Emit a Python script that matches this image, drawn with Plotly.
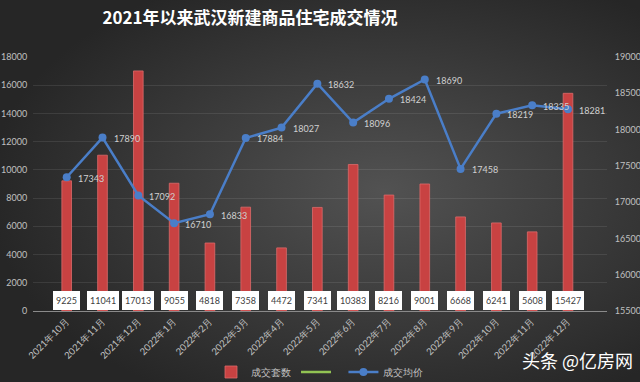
import base64
import plotly.graph_objects as go

months = ["2021年10月", "2021年11月", "2021年12月", "2022年1月", "2022年2月", "2022年3月",
          "2022年4月", "2022年5月", "2022年6月", "2022年7月", "2022年8月", "2022年9月",
          "2022年10月", "2022年11月", "2022年12月"]
volume = [9225, 11041, 17013, 9055, 4818, 7358, 4472, 7341, 10383, 8216, 9001, 6668, 6241, 5608, 15427]
avg_price = [17343, 17890, 17092, 16710, 16833, 17884, 18027, 18632, 18096, 18424, 18690, 17458, 18219, 18335, 18281]
left_ticks = list(range(0, 18001, 2000))
right_ticks = list(range(15500, 19001, 500))

W, H = 640, 382
L, R, T, B = 33, 33, 57, 71
pw, ph = W - L - R, H - T - B

svg = f'''<svg xmlns="http://www.w3.org/2000/svg" width="{W}" height="{H}" viewBox="0 0 {W} {H}" preserveAspectRatio="none">
<defs><radialGradient id="g" cx="60%" cy="50%" r="62%">
<stop offset="0%" stop-color="#525252"/><stop offset="100%" stop-color="#262626"/></radialGradient></defs>
<rect width="{W}" height="{H}" fill="url(#g)"/></svg>'''
bg_src = "data:image/svg+xml;base64," + base64.b64encode(svg.encode()).decode()

fig = go.Figure()
fig.add_trace(go.Bar(
    x=months, y=volume, name="成交套数", width=0.27,
    marker=dict(color="#c84242", line=dict(color="#dc6b6b", width=0.8)),
))
fig.add_trace(go.Scatter(
    x=[months[0]], y=[None], name=" ", mode="lines",
    line=dict(color="#92c353", width=2.5), yaxis="y2",
))
fig.add_trace(go.Scatter(
    x=months, y=avg_price, name="成交均价", mode="lines+markers",
    line=dict(color="#4a7ec8", width=2.5), marker=dict(color="#4a7ec8", size=8),
    yaxis="y2", cliponaxis=False,
))

annotations = []
for m, v in zip(months, volume):
    annotations.append(dict(
        x=m, y=730, xref="x", yref="y", text=str(v), showarrow=False,
        bgcolor="white", bordercolor="white", borderpad=2, height=13,
        font=dict(color="#404040", size=9, family="Lato"),
    ))
for m, v in zip(months, avg_price):
    annotations.append(dict(
        x=m, y=v, xref="x", yref="y2", text=str(v), showarrow=False,
        xanchor="left", yanchor="middle", xshift=9, yshift=-1,
        font=dict(color="#d0d0d0", size=9, family="Lato"),
    ))
annotations.append(dict(
    x=(577 - L) / pw, y=(T + ph - 360) / ph, xref="paper", yref="paper", showarrow=False,
    xanchor="center", yanchor="middle",
    text="头条 @亿房网", font=dict(color="white", size=18, family="Noto Sans CJK SC"),
))

fig.update_layout(
    width=W, height=H,
    margin=dict(l=L, r=R, t=T, b=B, pad=0, autoexpand=False),
    paper_bgcolor="#383838", plot_bgcolor="rgba(0,0,0,0)",
    font=dict(family="Lato", size=9, color="#c0c0c0"),
    title=dict(text="<b>2021年以来武汉新建商品住宅成交情况</b>", x=250 / W, xref="container",
               xanchor="center", y=1 - 18 / H, yref="container", yanchor="middle",
               font=dict(color="white", size=17, family="Noto Sans CJK SC")),
    images=[dict(source=bg_src, xref="paper", yref="paper",
                 x=-L / pw, y=1 + T / ph, sizex=W / pw, sizey=H / ph,
                 xanchor="left", yanchor="top", sizing="stretch", layer="below")],
    xaxis=dict(tickangle=-45, showgrid=False, showline=True, linecolor="#8a8a8a",
               linewidth=1, ticks="", automargin=False,
               tickfont=dict(size=9.5, color="#c0c0c0")),
    yaxis=dict(range=[0, 18000], tickvals=left_ticks, ticktext=[str(v) for v in left_ticks],
               showgrid=True, gridcolor="rgba(255,255,255,0.09)", zeroline=False,
               ticks="outside", ticklen=3, tickcolor="rgba(0,0,0,0)",
               automargin=False, tickfont=dict(size=9, color="#c0c0c0")),
    yaxis2=dict(range=[15500, 19000], tickvals=right_ticks, ticktext=[str(v) for v in right_ticks],
                overlaying="y", side="right", showgrid=False, zeroline=False,
                ticks="outside", ticklen=5, tickcolor="rgba(0,0,0,0)", automargin=False,
                tickfont=dict(size=9, color="#c0c0c0")),
    legend=dict(orientation="h", x=0.5, xanchor="center", y=(T + ph - 372) / ph,
                yanchor="middle", font=dict(size=9.5, color="#c0c0c0"),
                bgcolor="rgba(0,0,0,0)", itemwidth=30),
    annotations=annotations,
    showlegend=True,
)

fig.write_html("out.html", config={"displayModeBar": False},
               post_script="document.body.style.margin='0';document.body.style.overflow='hidden';")
